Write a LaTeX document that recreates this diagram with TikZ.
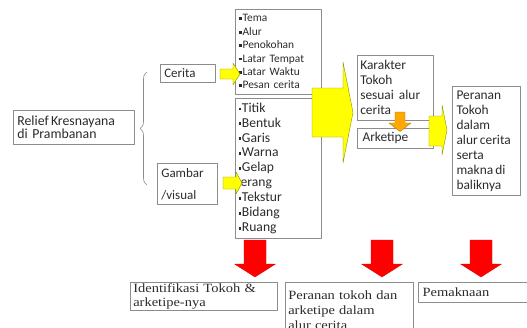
\documentclass[tikz,border=0pt]{standalone}
\usepackage{fontspec}
\setmainfont{Carlito}
\newfontfamily\bottomfont{Liberation Serif}[FakeStretch=1.15]
\usetikzlibrary{decorations.pathreplacing}
\definecolor{boxgray}{HTML}{8C8C8C}
\definecolor{txtgray}{HTML}{2B2B2B}
\definecolor{arryellow}{HTML}{FFFF00}
\definecolor{arrorange}{HTML}{FFA800}
\definecolor{arrred}{HTML}{FF0000}
\newcommand\sqb{\raisebox{0.3ex}{\rule{2.8pt}{2.8pt}}\hspace{0.6pt}}
\tikzset{
 box/.style={draw=boxgray,line width=0.6pt,anchor=north west,align=left,
  inner xsep=5pt,inner ysep=0pt,text=txtgray},
 yarrow/.style={fill=arryellow,draw=arryellow!55!black,line width=0.4pt,line join=miter},
 oarrow/.style={fill=arrorange,draw=arrorange!70!black,line width=0.4pt},
 rarrow/.style={fill=arrred,draw=arrred!85!black,line width=0.3pt},
 brace/.style={draw=boxgray,line width=0.6pt,decorate,decoration={brace,amplitude=7pt}}
}
\begin{document}
\begin{tikzpicture}[x=1pt,y=-1pt,line join=round]
 \useasboundingbox(0,0)rectangle(527,327);
 \clip(0,0)rectangle(527,327);
 % left part
 \node[box,minimum width=121,minimum height=34,text width=113,inner xsep=4pt,
  font=\fontsize{13.8}{13.2}\selectfont](relief)at(13,110){Relief\,Kresnayana\\di Prambanan};
 \draw[brace](147,185)--(147,72);
 \node[box,minimum width=55,minimum height=18,text width=47,inner xsep=4pt,
  font=\fontsize{13}{14}\selectfont](cerita)at(160,64){Cerita};
 \node[box,minimum width=60,minimum height=41,text width=52,inner xsep=4pt,
  font=\fontsize{13}{22}\selectfont](gambar)at(157,163){Gambar\\/visual};
 % lists
 \node[box,minimum width=86,minimum height=85,text width=82,inner xsep=2pt,
  font=\fontsize{11.4}{13.4}\selectfont](unsur)at(235,9)
  {\,\sqb Tema\\\,\sqb Alur\\\,\sqb Penokohan\\\,\sqb Latar Tempat\\\,\sqb Latar Waktu\\\,\sqb Pesan cerita};
 \node[box,minimum width=86,minimum height=140,text width=84,inner xsep=1pt,
  font=\fontsize{13.6}{14.9}\selectfont](rupa)at(235,98)
  {\,\sqb Titik\\\,\sqb Bentuk\\\,\sqb Garis\\\,\sqb Warna\\\,\sqb Gelap\\terang\\\,\sqb Tekstur\\\,\sqb Bidang\\\,\sqb Ruang};
 % right part
 \node[box,minimum width=76,minimum height=65,text width=70,inner xsep=3pt,
  font=\fontsize{13.4}{15}\selectfont](karakter)at(357,55){Karakter\\Tokoh\\sesuai\hspace{5pt}alur\\cerita};
 \node[box,minimum width=76,minimum height=20,text width=70,inner xsep=3pt,
  font=\fontsize{13.4}{15}\selectfont](arketipe)at(357,128){\,Arketipe};
 \node[box,minimum width=68,minimum height=109,text width=64,inner xsep=2pt,
  font=\fontsize{13.4}{15}\selectfont](peranan)at(452,86)
  {\,Peranan\\\,Tokoh\\\,dalam\\\,alur\,cerita\\\,serta\\\,makna\,di\\\,baliknya};
 % bottom boxes
 \node[box,minimum width=147,minimum height=28,text width=141,inner xsep=3pt,
  font=\bottomfont\fontsize{12.6}{14}\selectfont](identifikasi)at(130,282)
  {Identifikasi Tokoh \&\\arketipe-nya};
 \node[box,minimum width=128,minimum height=56,text width=122,inner xsep=3pt,
  font=\bottomfont\fontsize{12.6}{15}\selectfont](alur)at(285,282)
  {Peranan tokoh dan\\arketipe dalam\\alur cerita};
 \node[box,minimum width=108.5,minimum height=20,text width=100,inner xsep=4pt,
  font=\bottomfont\fontsize{12.6}{14}\selectfont](makna)at(418,282){Pemaknaan};
 % block arrows
 \filldraw[yarrow](220,69)--(233,69)--(233,63)--(240,74)--(233,85)--(233,79)--(220,79)--cycle;
 \filldraw[yarrow](223,177)--(236,177)--(236,172)--(242,183)--(236,194)--(236,189)--(223,189)--cycle;
 \filldraw[yarrow](312,88)--(343,88)--(343,62)--(353,112.5)--(343,163)--(343,137)--(312,137)--cycle;
 \filldraw[yarrow](429,116)--(442,116)--(442,105)--(447,130)--(442,155)--(442,146)--(429,146)--cycle;
 \filldraw[oarrow](395,112)--(405,112)--(405,123)--(411,123)--(400,131.5)--(389,123)--(395,123)--cycle;
 \foreach \cx in {255,382,481}
  \filldraw[rarrow](\cx-11,240)--(\cx+11,240)--(\cx+11,264)--(\cx+20.5,264)
   --(\cx,277)--(\cx-20.5,264)--(\cx-11,264)--cycle;
\end{tikzpicture}
\end{document}
